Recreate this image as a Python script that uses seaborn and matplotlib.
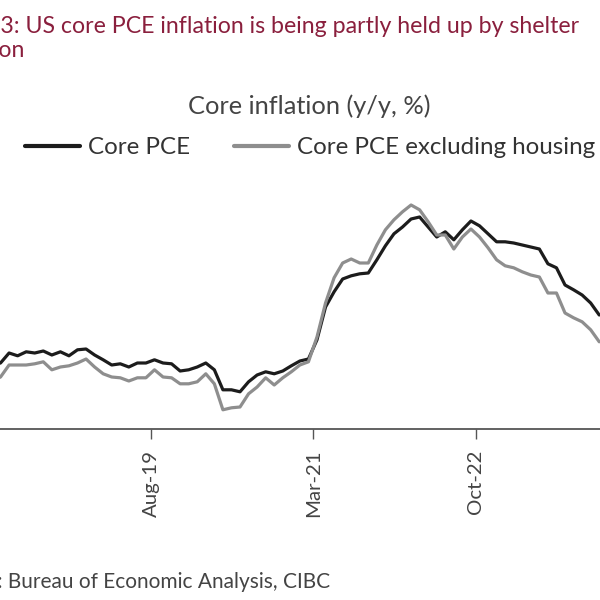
import numpy as np
import pandas as pd
import matplotlib
matplotlib.use("Agg")
import matplotlib.pyplot as plt
import seaborn as sns

# ---------------- data ----------------
month_labels = list(pd.date_range("2018-01-01", "2023-12-01", freq="MS").strftime("%b-%y"))

core_pce = [1.60, 1.65, 1.90, 1.83, 1.93, 1.90, 1.95, 1.85, 1.93, 1.83, 1.98, 2.00,
            1.85, 1.73, 1.60, 1.63, 1.55, 1.65, 1.65, 1.73, 1.65, 1.63, 1.45, 1.48,
            1.55, 1.65, 1.48, 0.98, 0.98, 0.93, 1.18, 1.35, 1.43, 1.38, 1.45, 1.58,
            1.70, 1.75, 2.23, 3.05, 3.43, 3.75, 3.83, 3.88, 3.90, 4.23, 4.58, 4.88,
            5.05, 5.25, 5.30, 5.05, 4.80, 4.93, 4.73, 4.98, 5.20, 5.08, 4.88, 4.68,
            4.68, 4.65, 4.60, 4.55, 4.50, 4.13, 4.03, 3.60, 3.48, 3.35, 3.15, 2.85]

core_pce_ex_housing = [1.20, 1.30, 1.60, 1.60, 1.60, 1.63, 1.68, 1.48, 1.55, 1.58, 1.65, 1.75,
                       1.55, 1.38, 1.30, 1.28, 1.20, 1.28, 1.28, 1.48, 1.30, 1.28, 1.13, 1.13,
                       1.18, 1.38, 1.13, 0.48, 0.53, 0.55, 0.88, 1.05, 1.28, 1.10, 1.28, 1.43,
                       1.60, 1.68, 2.30, 3.15, 3.78, 4.15, 4.25, 4.15, 4.15, 4.60, 4.98, 5.23,
                       5.43, 5.60, 5.48, 5.18, 4.85, 4.85, 4.50, 4.80, 5.00, 4.80, 4.53, 4.23,
                       4.08, 4.03, 3.93, 3.85, 3.80, 3.40, 3.40, 2.90, 2.78, 2.68, 2.48, 2.18]

series_names = ["Core PCE", "Core PCE excluding housing"]
tick_labels = ["Jan-18", "Aug-19", "Mar-21", "Oct-22"]

title_line1 = "Chart 3: US core PCE inflation is being partly held up by shelter"
title_line2 = "inflation"
subtitle = "Core inflation (y/y, %)"
source = "Source: Bureau of Economic Analysis, CIBC"

# ---------------- styling ----------------
sns.set_theme(style="white")
plt.rcParams["font.family"] = ["Lato", "DejaVu Sans"]

W = H = 600.0
fig = plt.figure(figsize=(6, 6), dpi=100)
fig.patch.set_facecolor("white")
ax = fig.add_axes([-20 / W, 171 / H, 620 / W, 240 / H])

idx = np.arange(len(month_labels))
df = pd.DataFrame({
    "month": np.concatenate([idx, idx]),
    "value": core_pce + core_pce_ex_housing,
    "series": [series_names[0]] * len(idx) + [series_names[1]] * len(idx),
})

sns.lineplot(data=df, x="month", y="value", hue="series", hue_order=series_names,
             palette={series_names[0]: "#1c1c1c", series_names[1]: "#8e8e8e"},
             linewidth=2.3, ax=ax, legend=True)
handles, labels = ax.get_legend_handles_labels()
ax.get_legend().remove()

ax.set_xlim(-1.40, 71.09)
ax.set_ylim(0, 6)
for s in ["top", "right", "left"]:
    ax.spines[s].set_visible(False)
ax.spines["bottom"].set_color("#555555")
ax.spines["bottom"].set_linewidth(1.3)
tick_pos = [month_labels.index(t) - 0.41 for t in tick_labels]
ax.set_xticks(tick_pos)
ax.set_xticklabels(tick_labels, rotation=90, fontsize=14.7, color="#444444")
ax.tick_params(axis="x", length=7, width=1, color="#555555", direction="out", pad=8, bottom=True)
ax.set_yticks([])
ax.set_xlabel("")
ax.set_ylabel("")
ax.grid(False)

renderer = fig.canvas.get_renderer()


def text_width(s, **kw):
    t = fig.text(0, 0, s, **kw)
    w = t.get_window_extent(renderer).width
    t.remove()
    return w


def cut_text(full, hidden, vis_x_px, y_px, **kw):
    w = text_width(hidden + "X", **kw) - text_width("X", **kw)
    fig.text((vis_x_px - w) / W, 1 - y_px / H, full, ha="left", va="baseline", **kw)


title_kw = dict(fontsize=16.7, color="#8a1f3d")
cut_text(title_line1, "Chart ", 0.5, 33, **title_kw)
cut_text(title_line2, "inflati", -0.5, 57, **title_kw)

fig.text(309 / W, 1 - 113.5 / H, subtitle, ha="center", va="baseline", fontsize=18.3, color="#444444")

leg = fig.legend(handles, labels, loc="center", bbox_to_anchor=(310 / W, 1 - 148 / H),
                 ncol=2, frameon=False, fontsize=17.4, handlelength=2.26, handletextpad=0.33,
                 columnspacing=1.85, borderaxespad=0)
for t in leg.get_texts():
    t.set_color("#333333")
for l in leg.get_lines():
    l.set_linewidth(3)

cut_text(source, "Source: ", 8, 588, fontsize=15, color="#444444")

fig.savefig("out.png", dpi=100, facecolor="white")
